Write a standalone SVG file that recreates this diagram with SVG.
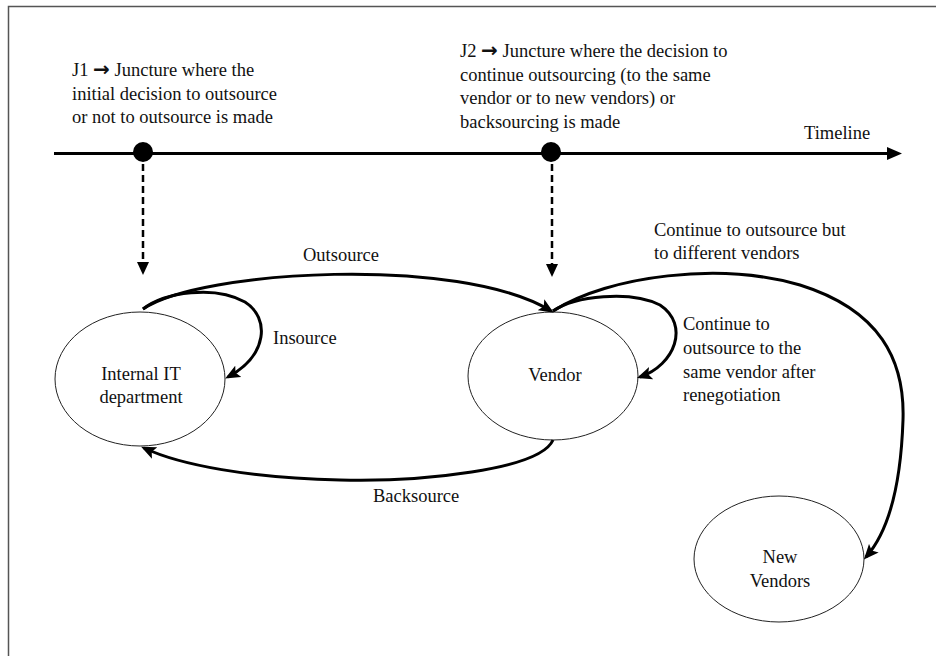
<svg xmlns="http://www.w3.org/2000/svg" width="936" height="656" viewBox="0 0 936 656">
<style>
text{font-family:"Liberation Serif","Times New Roman",serif;font-size:18.5px;fill:#111}
.arr{font-family:"DejaVu Sans",sans-serif;font-weight:bold;font-size:20px}
.node ellipse{fill:#fff;stroke:#222;stroke-width:1}
.conn{fill:none;stroke:#000;stroke-width:3;marker-end:url(#ah)}
.dash{stroke:#000;stroke-width:2.5;stroke-dasharray:7 4}
.mid{text-anchor:middle}
</style>
<defs>
<marker id="ah" viewBox="0 0 14 12" refX="11" refY="6" markerWidth="15" markerHeight="13" markerUnits="userSpaceOnUse" orient="auto">
<path d="M0,0 L14,6 L0,12 L3,6 z" fill="#000"/>
</marker>
</defs>
<rect width="936" height="656" fill="#fff"/>
<path d="M8.5,656 V6.5 H936" fill="none" stroke="#555" stroke-width="1.5"/>

<g id="timeline">
<line x1="54" y1="153.5" x2="890" y2="153.5" stroke="#000" stroke-width="3"/>
<polygon points="887,147 902,153.5 887,160" fill="#000"/>
<text x="804" y="139">Timeline</text>
</g>

<g id="j1">
<circle cx="143" cy="152" r="10" fill="#000"/>
<line class="dash" x1="143" y1="164" x2="143" y2="262"/>
<polygon points="137,262 149,262 143,275" fill="#000"/>
<text x="72" y="76">J1 <tspan class="arr">→</tspan> Juncture where the</text>
<text x="72" y="99.5">initial decision to outsource</text>
<text x="72" y="123">or not to outsource is made</text>
</g>

<g id="j2">
<circle cx="551" cy="152" r="10" fill="#000"/>
<line class="dash" x1="552" y1="164" x2="552" y2="264"/>
<polygon points="546,264 558,264 552,277" fill="#000"/>
<text x="460" y="57">J2 <tspan class="arr">→</tspan> Juncture where the decision to</text>
<text x="460" y="80.5">continue outsourcing (to the same</text>
<text x="460" y="104">vendor or to new vendors) or</text>
<text x="460" y="127.5">backsourcing is made</text>
</g>

<g id="internal" class="node">
<ellipse cx="140" cy="379" rx="85" ry="67"/>
<text class="mid" x="141" y="380">Internal IT</text>
<text class="mid" x="141" y="403">department</text>
</g>

<g id="vendor" class="node">
<ellipse cx="553" cy="376" rx="85" ry="64"/>
<text class="mid" x="555" y="381">Vendor</text>
</g>

<g id="newvendors" class="node">
<ellipse cx="779" cy="559" rx="85" ry="63"/>
<text class="mid" x="780" y="563">New</text>
<text class="mid" x="780" y="587">Vendors</text>
</g>

<g id="connectors">
<path class="conn" d="M143,309 C200,270 460,255 551,311"/>
<path class="conn" d="M143,309 C165,292 215,285 245,302 C270,318 268,355 228,377"/>
<path class="conn" d="M553,440 C540,470 420,482 340,480 C250,478 180,465 144,448"/>
<path class="conn" d="M553,311 C575,296 630,290 660,305 C690,325 675,365 640,377"/>
<path class="conn" d="M553,311 C610,275 720,262 800,285 C880,310 905,360 903,420 C901,480 890,530 866,557"/>
<text x="303" y="261">Outsource</text>
<text x="273" y="344">Insource</text>
<text x="373" y="502">Backsource</text>
<text x="683" y="330">Continue to</text>
<text x="683" y="354">outsource to the</text>
<text x="683" y="377.5">same vendor after</text>
<text x="683" y="401">renegotiation</text>
<text x="654" y="236">Continue to outsource but</text>
<text x="654" y="259">to different vendors</text>
</g>
</svg>
